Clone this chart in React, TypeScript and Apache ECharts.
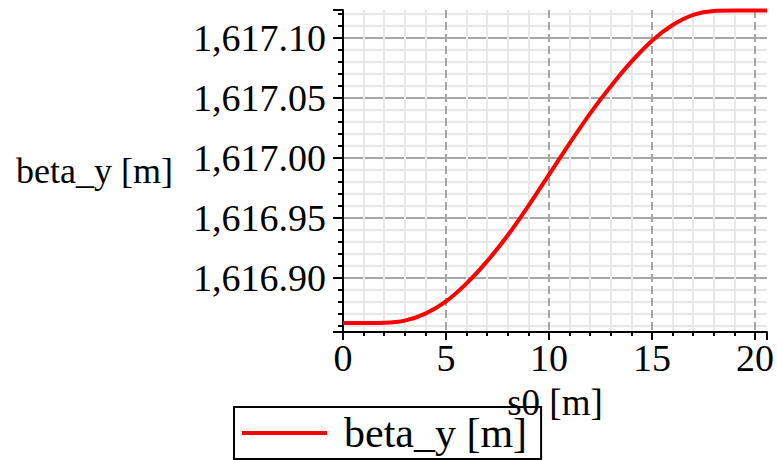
import React, { useEffect, useRef } from "react";
import * as echarts from "echarts";

const sValues = [0, 1, 2, 3, 4, 5, 6, 7, 8, 9, 10, 11, 12, 13, 14, 15, 16, 17, 18, 19, 20, 20.58];
const betaY = [
  1616.8625, 1616.8625, 1616.8627, 1616.8645, 1616.8703, 1616.8805, 1616.8955, 1616.914,
  1616.9355, 1616.96, 1616.986, 1617.012, 1617.037, 1617.0595, 1617.08, 1617.0975,
  1617.1105, 1617.119, 1617.1222, 1617.1225, 1617.1225, 1617.1225,
];
const seriesName = "beta_y [m]";
const xName = "s0 [m]";
const yName = "beta_y [m]";
const xRange = [0, 20.58];
const yRange = [1616.855, 1617.123];

const FONT = "Liberation Serif";

export default function App() {
  const ref = useRef<HTMLDivElement>(null);
  useEffect(() => {
    if (!ref.current) return;
    const chart = echarts.init(ref.current, undefined, { renderer: "svg" });
    const data = sValues.map((s, i) => [s, betaY[i]]);
    chart.setOption({
      animation: false,
      backgroundColor: "#ffffff",
      grid: { left: 343, top: 10, right: 7, bottom: 128, containLabel: false },
      legend: {
        show: true,
        left: 234,
        top: 407,
        orient: "horizontal",
        borderColor: "#000",
        borderWidth: 2,
        borderRadius: 0,
        padding: [3, 14, 3, 8],
        itemWidth: 85,
        itemHeight: 4,
        icon: "rect",
        textStyle: {
          fontFamily: FONT,
          fontSize: 42,
          color: "#000",
          lineHeight: 46,
          padding: [0, 0, 0, 12],
        },
        data: [seriesName],
      },
      xAxis: {
        type: "value",
        min: xRange[0],
        max: xRange[1],
        interval: 5,
        name: xName,
        nameLocation: "middle",
        nameGap: 52,
        nameTextStyle: { fontFamily: FONT, fontSize: 37, color: "#000" },
        axisLine: { show: true, onZero: false, lineStyle: { color: "#000", width: 2 } },
        axisTick: { show: true, length: 8, lineStyle: { color: "#000", width: 2 } },
        minorTick: { show: true, splitNumber: 5, length: 4, lineStyle: { color: "#000", width: 2 } },
        axisLabel: {
          fontFamily: FONT,
          fontSize: 38,
          color: "#000",
          margin: 7,
          showMaxLabel: false,
        },
        splitLine: {
          show: true,
          showMaxLine: false,
          lineStyle: { color: "#a6a6a6", width: 2, type: [8, 4] },
        },
        minorSplitLine: { show: true, lineStyle: { color: "#e8e8e8", width: 2 } },
      },
      yAxis: {
        type: "value",
        min: yRange[0],
        max: yRange[1],
        splitNumber: 5,
        name: yName,
        nameLocation: "middle",
        nameRotate: 0,
        nameGap: 170,
        nameTextStyle: { fontFamily: FONT, fontSize: 36, color: "#000" },
        axisLine: { show: true, onZero: false, lineStyle: { color: "#000", width: 2 } },
        axisTick: { show: true, length: 10, lineStyle: { color: "#000", width: 2 } },
        minorTick: { show: true, splitNumber: 5, length: 5, lineStyle: { color: "#000", width: 2 } },
        axisLabel: {
          fontFamily: FONT,
          fontSize: 38,
          color: "#000",
          margin: 17,
          showMinLabel: false,
          showMaxLabel: false,
          formatter: (v: number) => {
            if (Math.abs(v * 20 - Math.round(v * 20)) > 1e-6) return "";
            return v.toLocaleString("en-US", { minimumFractionDigits: 2, maximumFractionDigits: 2 });
          },
        },
        splitLine: { show: true, showMaxLine: false, lineStyle: { color: "#a6a6a6", width: 2 } },
        minorSplitLine: { show: true, lineStyle: { color: "#e8e8e8", width: 2 } },
      },
      series: [
        {
          name: seriesName,
          type: "line",
          data,
          smooth: 0.3,
          showSymbol: false,
          symbol: "none",
          lineStyle: { color: "#ff0000", width: 4 },
          itemStyle: { color: "#ff0000" },
          z: 5,
        },
      ],
    });
    return () => chart.dispose();
  }, []);
  return (
    <div
      ref={ref}
      style={{ position: "fixed", left: 0, top: 0, width: 777, height: 460, background: "#fff" }}
    />
  );
}
